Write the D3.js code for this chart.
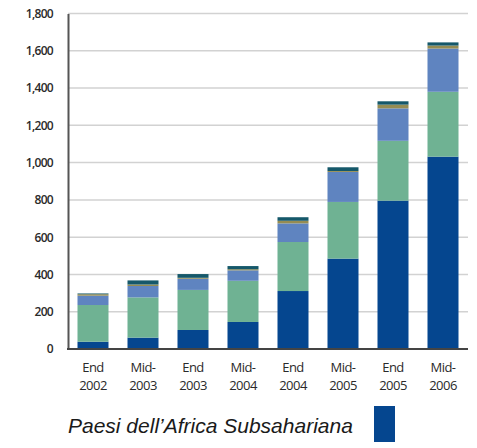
<!DOCTYPE html>
<html>
<head>
<meta charset="utf-8">
<script src="https://cdn.jsdelivr.net/npm/d3@7"></script>
<style>
  html, body { margin: 0; padding: 0; background: #fff; }
  svg { display: block; }
</style>
</head>
<body>
<svg id="chart" width="477" height="448"></svg>
<script>
// Period labels, two lines each
const periods = [
  ["End", "2002"], ["Mid-", "2003"], ["End", "2003"], ["Mid-", "2004"],
  ["End", "2004"], ["Mid-", "2005"], ["End", "2005"], ["Mid-", "2006"]
];
const periodKeys = periods.map(p => p.join(" "));

// Stacked series, bottom to top
const seriesNames = ["subsaharan", "green", "lightblue", "olive", "teal"];
const subsaharan = [39, 61, 102, 145, 311, 485, 796, 1032];
const green      = [197, 216, 215, 221, 263, 304, 321, 348];
const lightblue  = [50, 61, 60, 56, 100, 161, 174, 232];
const olive      = [8, 8, 5, 6, 14, 5, 20, 16];
const teal       = [4, 22, 20, 17, 19, 20, 18, 17];
const seriesColors = ["#05468f", "#6fb293", "#5f84c0", "#958c52", "#15586a"];

const yTicks = [0, 200, 400, 600, 800, 1000, 1200, 1400, 1600, 1800];
const legendLabel = "Paesi dell\u2019Africa Subsahariana";

const rows = periodKeys.map((k, i) => ({
  key: k,
  subsaharan: subsaharan[i], green: green[i], lightblue: lightblue[i],
  olive: olive[i], teal: teal[i]
}));

const svg = d3.select("#chart");
const plotLeft = 68, plotRight = 468, plotTop = 13.5, plotBottom = 349;

const x = d3.scaleBand().domain(periodKeys).range([plotLeft, plotRight])
  .paddingInner(0.38).paddingOuter(0.19);
const y = d3.scaleLinear().domain([0, 1800]).range([plotBottom, plotTop]);
const color = d3.scaleOrdinal().domain(seriesNames).range(seriesColors);

// Gridlines
svg.append("g")
  .selectAll("line").data(yTicks.filter(t => t > 0)).join("line")
  .attr("x1", plotLeft).attr("x2", plotRight)
  .attr("y1", d => y(d)).attr("y2", d => y(d))
  .attr("stroke", "#d2d2d2").attr("stroke-width", 1.5);

// Stacked bars
const stack = d3.stack().keys(seriesNames)(rows);
svg.append("g")
  .selectAll("g").data(stack).join("g")
  .attr("fill", d => color(d.key))
  .selectAll("rect").data(d => d).join("rect")
  .attr("x", d => x(d.data.key))
  .attr("width", x.bandwidth())
  .attr("y", d => y(d[1]))
  .attr("height", d => y(d[0]) - y(d[1]));

// Y axis
const yAxis = svg.append("g")
  .attr("transform", `translate(${plotLeft},0)`)
  .call(d3.axisLeft(y).tickValues(yTicks).tickFormat(d3.format(",")).tickSize(0).tickPadding(15));
yAxis.select(".domain").attr("stroke", "#555").attr("stroke-width", 2);
yAxis.selectAll("text")
  .attr("font-family", "'Open Sans', sans-serif")
  .attr("font-size", 12).attr("font-weight", 600).attr("fill", "#2a2a2a")
  .attr("letter-spacing", "-0.7px");

// Baseline
svg.append("line")
  .attr("x1", plotLeft - 1).attr("x2", plotRight)
  .attr("y1", plotBottom).attr("y2", plotBottom)
  .attr("stroke", "#444").attr("stroke-width", 2);

// X labels
const xl = svg.append("g")
  .selectAll("text").data(periods).join("text")
  .attr("text-anchor", "middle")
  .attr("font-family", "'Open Sans', sans-serif")
  .attr("font-size", 13).attr("font-weight", 500).attr("fill", "#2a2a2a")
  .attr("letter-spacing", "-0.5px");
xl.append("tspan").attr("y", 372).attr("x", (d, i) => x(periodKeys[i]) + x.bandwidth() / 2).text(d => d[0]);
xl.append("tspan").attr("y", 390).attr("x", (d, i) => x(periodKeys[i]) + x.bandwidth() / 2).text(d => d[1]);

// Legend
svg.append("text")
  .attr("x", 68).attr("y", 433)
  .attr("font-family", "'Liberation Sans', Arial, sans-serif")
  .attr("font-style", "italic")
  .attr("font-size", 21).attr("fill", "#1a1a1a")
  .text(legendLabel);
svg.append("rect")
  .attr("x", 374).attr("y", 406).attr("width", 21).attr("height", 36)
  .attr("fill", color("subsaharan"));
</script>
</body>
</html>
